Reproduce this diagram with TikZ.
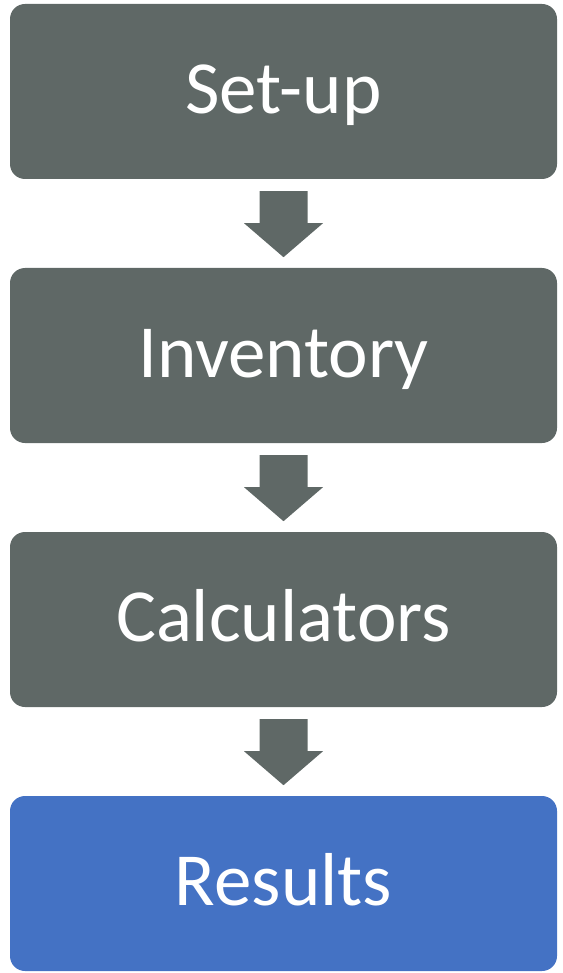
\documentclass[tikz,border=0pt]{standalone}
\usepackage{fontspec}
\setmainfont{Carlito}
\definecolor{stepgray}{HTML}{5F6866}
\definecolor{stepblue}{HTML}{4472C4}
% place the label baseline a fixed distance below the box centre
\newcommand{\steplabel}[1]{\raisebox{-22pt}[0pt][0pt]{#1}}
\begin{document}
\begin{tikzpicture}[x=1pt,y=-1pt,
  stepbox/.style={fill=#1, rounded corners=15pt, minimum width=547pt, minimum height=175pt,
    inner sep=0pt, text=white, font=\fontsize{75}{80}\selectfont},
  downarrow/.style={fill=stepgray}]
\useasboundingbox (0,0) rectangle (562,973);
\node[stepbox=stepgray] (setup) at (283.5,91.5) {\steplabel{Set-up}};
\node[stepbox=stepgray] (inv) at (283.5,355.5) {\steplabel{Inventory}};
\node[stepbox=stepgray] (calc) at (283.5,619.5) {\steplabel{Calculators}};
\node[stepbox=stepblue] (res) at (283.5,883.5) {\steplabel{Results}};
% block arrows between consecutive steps
\foreach \a in {setup,inv,calc}{
  \fill[downarrow] ([shift={(-24,12)}]\a.south) -- ([shift={(24,12)}]\a.south)
    -- ([shift={(24,44)}]\a.south) -- ([shift={(39.5,44)}]\a.south)
    -- ([shift={(0,78)}]\a.south) -- ([shift={(-39.5,44)}]\a.south)
    -- ([shift={(-24,44)}]\a.south) -- cycle;
}
\end{tikzpicture}
\end{document}
